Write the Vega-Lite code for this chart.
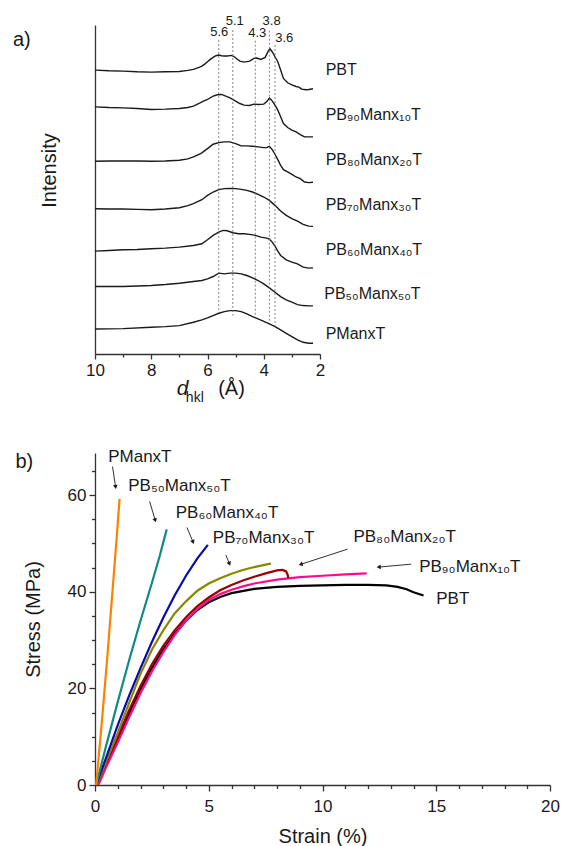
{
  "$schema": "https://vega.github.io/schema/vega-lite/v6.json",
  "padding": {"left": 12, "top": 14, "right": 5, "bottom": 5},
  "background": "white",
  "config": {
    "font": "Liberation Sans",
    "view": {"stroke": null},
    "axis": {"domainColor": "#333", "tickColor": "#333", "labelColor": "#1a1a1a", "titleColor": "#1a1a1a", "labelFont": "Liberation Sans", "titleFont": "Liberation Sans", "domainWidth": 1.3, "tickWidth": 1.3, "labelFontSize": 17, "titleFontSize": 20, "titleFontWeight": "normal", "grid": false, "labelFlush": false},
    "text": {"font": "Liberation Sans", "color": "#1a1a1a"}
  },
  "columns": 1,
  "align": "none",
  "spacing": 42,
  "concat": [
    {
      "width": 225,
      "height": 329,
      "resolve": {"axis": {"x": "independent", "y": "independent"}},
      "layer": [
        {
          "data": {"name": "xrd"},
          "mark": {"type": "line", "color": "#1a1a1a", "strokeWidth": 1.4},
          "encoding": {
            "x": {"field": "d", "type": "quantitative", "scale": {"domain": [2, 10], "reverse": true, "nice": false, "zero": false},
              "axis": {"orient": "bottom", "values": [2, 4, 6, 8, 10], "title": null, "tickSize": 5, "labelPadding": 3}},
            "y": {"field": "v", "type": "quantitative", "scale": {"domain": [0, 985], "nice": false},
              "axis": {"orient": "left", "title": "Intensity", "labels": false, "ticks": false, "domain": true, "titlePadding": 36, "titleY": 145, "titleAlign": "center", "titleAnchor": "middle"}},
            "detail": {"field": "s"}
          }
        },
        {
          "data": {"name": "xrd"},
          "mark": {"type": "point", "opacity": 0},
          "encoding": {
            "x": {"field": "d", "type": "quantitative", "axis": {"orient": "bottom", "values": [3, 5, 7, 9], "labels": false, "domain": false, "tickSize": 3, "title": null}},
            "y": {"field": "v", "type": "quantitative", "axis": null}
          }
        },
        {
          "data": {"name": "peaks"},
          "mark": {"type": "rule", "strokeDash": [2, 2], "color": "#666", "strokeWidth": 0.8},
          "encoding": {
            "x": {"field": "d", "type": "quantitative", "axis": null},
            "y": {"field": "top", "type": "quantitative", "axis": null},
            "y2": {"field": "bottom"}
          }
        },
        {
          "data": {"name": "peaklabels"},
          "mark": {"type": "text", "fontSize": 13, "baseline": "middle"},
          "encoding": {
            "x": {"field": "d", "type": "quantitative", "axis": null},
            "y": {"field": "v", "type": "quantitative", "axis": null},
            "text": {"field": "t", "type": "nominal"}
          }
        },
        {
          "data": {"name": "xrdlabels"},
          "mark": {"type": "text", "fontSize": 16, "align": "left", "baseline": "middle"},
          "encoding": {
            "x": {"field": "d", "type": "quantitative", "axis": null},
            "y": {"field": "v", "type": "quantitative", "axis": null},
            "text": {"field": "t", "type": "nominal"}
          }
        },
        {
          "data": {"values": [{"t": "d", "d": 7.09, "v": -104}]},
          "mark": {"type": "text", "fontSize": 21, "fontStyle": "italic", "align": "left", "baseline": "middle"},
          "encoding": {
            "x": {"field": "d", "type": "quantitative", "axis": null},
            "y": {"field": "v", "type": "quantitative", "axis": null},
            "text": {"field": "t", "type": "nominal"}
          }
        },
        {
          "data": {"values": [{"t": "hkl", "d": 6.77, "v": -131}]},
          "mark": {"type": "text", "fontSize": 14, "align": "left", "baseline": "middle"},
          "encoding": {
            "x": {"field": "d", "type": "quantitative", "axis": null},
            "y": {"field": "v", "type": "quantitative", "axis": null},
            "text": {"field": "t", "type": "nominal"}
          }
        },
        {
          "data": {"values": [{"t": "(Å)", "d": 5.62, "v": -104}]},
          "mark": {"type": "text", "fontSize": 20, "align": "left", "baseline": "middle"},
          "encoding": {
            "x": {"field": "d", "type": "quantitative", "axis": null},
            "y": {"field": "v", "type": "quantitative", "axis": null},
            "text": {"field": "t", "type": "nominal"}
          }
        },
        {
          "data": {"values": [{"t": "a)", "d": 12.92, "v": 940}]},
          "mark": {"type": "text", "fontSize": 20, "align": "left", "baseline": "middle"},
          "encoding": {
            "x": {"field": "d", "type": "quantitative", "axis": null},
            "y": {"field": "v", "type": "quantitative", "axis": null},
            "text": {"field": "t", "type": "nominal"}
          }
        }
      ]
    },
    {
      "width": 455,
      "height": 332,
      "resolve": {"axis": {"x": "independent", "y": "independent"}},
      "layer": [
        {
          "data": {"name": "ss"},
          "mark": {"type": "line", "strokeWidth": 2.2},
          "encoding": {
            "x": {"field": "x", "type": "quantitative", "scale": {"domain": [0, 20], "nice": false},
              "axis": {"orient": "bottom", "values": [0, 5, 10, 15, 20], "title": "Strain (%)", "tickSize": 6, "labelPadding": 7, "titlePadding": 12}},
            "y": {"field": "y", "type": "quantitative", "scale": {"domain": [0, 68.7], "nice": false},
              "axis": {"orient": "left", "values": [0, 20, 40, 60], "title": "Stress (MPa)", "tickSize": 6, "labelPadding": 3, "titlePadding": 24}},
            "color": {"field": "s", "type": "nominal", "legend": null,
              "scale": {"domain": ["PBT", "PB90Manx10T", "PB80Manx20T", "PB70Manx30T", "PB60Manx40T", "PB50Manx50T", "PManxT"],
                "range": ["#000000", "#FF0A8C", "#990000", "#888800", "#0A0AA8", "#128A82", "#FF8000"]}},
            "order": {"field": "i", "type": "quantitative"}
          }
        },
        {
          "data": {"name": "ss"},
          "mark": {"type": "point", "opacity": 0},
          "encoding": {
            "x": {"field": "x", "type": "quantitative", "axis": {"orient": "bottom", "values": [1, 2, 3, 4, 6, 7, 8, 9, 11, 12, 13, 14, 16, 17, 18, 19], "labels": false, "domain": false, "tickSize": 3.5, "title": null}},
            "y": {"field": "y", "type": "quantitative", "axis": {"orient": "left", "values": [5, 10, 15, 25, 30, 35, 45, 50, 55, 65], "labels": false, "domain": false, "tickSize": 3.5, "title": null}}
          }
        },
        {
          "data": {"name": "arrows"},
          "mark": {"type": "rule", "color": "#1a1a1a", "strokeWidth": 0.9},
          "encoding": {
            "x": {"field": "x1", "type": "quantitative", "axis": null},
            "y": {"field": "y1", "type": "quantitative", "axis": null},
            "x2": {"field": "x2"},
            "y2": {"field": "y2"}
          }
        },
        {
          "data": {"name": "arrows"},
          "mark": {"type": "point", "shape": "triangle", "filled": true, "color": "#1a1a1a", "size": 22, "opacity": 1},
          "encoding": {
            "x": {"field": "x2", "type": "quantitative", "axis": null},
            "y": {"field": "y2", "type": "quantitative", "axis": null},
            "angle": {"field": "angle", "type": "quantitative", "scale": null}
          }
        },
        {
          "data": {"name": "sslabels"},
          "mark": {"type": "text", "fontSize": 17, "align": "left", "baseline": "middle"},
          "encoding": {
            "x": {"field": "x", "type": "quantitative", "axis": null},
            "y": {"field": "y", "type": "quantitative", "axis": null},
            "text": {"field": "t", "type": "nominal"}
          }
        },
        {
          "data": {"values": [{"t": "b)", "x": -3.5, "y": 66.8}]},
          "mark": {"type": "text", "fontSize": 20, "align": "left", "baseline": "middle"},
          "encoding": {
            "x": {"field": "x", "type": "quantitative", "axis": null},
            "y": {"field": "y", "type": "quantitative", "axis": null},
            "text": {"field": "t", "type": "nominal"}
          }
        }
      ]
    }
  ],
  "datasets": {
    "peaks": [
      {"d": 5.6, "top": 940, "bottom": 132},
      {"d": 5.1, "top": 970, "bottom": 115},
      {"d": 4.3, "top": 938, "bottom": 112},
      {"d": 3.8, "top": 968, "bottom": 95},
      {"d": 3.6, "top": 925, "bottom": 82}
    ],
    "peaklabels": [
      {"t": "5.6", "d": 5.58, "v": 965},
      {"t": "5.1", "d": 5.03, "v": 998},
      {"t": "4.3", "d": 4.23, "v": 960},
      {"t": "3.8", "d": 3.72, "v": 998},
      {"t": "3.6", "d": 3.27, "v": 945}
    ],
    "xrdlabels": [
      {"t": "PBT", "d": 1.8, "v": 850},
      {"t": "PB₉₀Manx₁₀T", "d": 1.8, "v": 715},
      {"t": "PB₈₀Manx₂₀T", "d": 1.8, "v": 580},
      {"t": "PB₇₀Manx₃₀T", "d": 1.8, "v": 445},
      {"t": "PB₆₀Manx₄₀T", "d": 1.8, "v": 310},
      {"t": "PB₅₀Manx₅₀T", "d": 1.85, "v": 180},
      {"t": "PManxT", "d": 1.8, "v": 60}
    ],
    "sslabels": [
      {"t": "PManxT", "x": 0.58, "y": 67.9},
      {"t": "PB₅₀Manx₅₀T", "x": 1.46, "y": 61.8},
      {"t": "PB₆₀Manx₄₀T", "x": 3.55, "y": 56.3},
      {"t": "PB₇₀Manx₃₀T", "x": 5.18, "y": 51.1},
      {"t": "PB₈₀Manx₂₀T", "x": 11.36, "y": 51.3},
      {"t": "PB₉₀Manx₁₀T", "x": 14.25, "y": 45.2},
      {"t": "PBT", "x": 15.0, "y": 38.4}
    ],
    "arrows": [
      {"x1": 0.77, "y1": 65.9, "x2": 0.9, "y2": 61.8, "angle": 172},
      {"x1": 2.4, "y1": 58.7, "x2": 2.64, "y2": 54.9, "angle": 164},
      {"x1": 4.04, "y1": 53.3, "x2": 4.3, "y2": 50.4, "angle": 157},
      {"x1": 5.75, "y1": 47.6, "x2": 5.9, "y2": 45.9, "angle": 159},
      {"x1": 11.1, "y1": 48.8, "x2": 9.07, "y2": 45.7, "angle": 252},
      {"x1": 13.9, "y1": 45.7, "x2": 12.5, "y2": 45.1, "angle": 265}
    ],
    "xrd": [
      {"s": "PBT", "d": 10, "v": 850}, {"s": "PBT", "d": 9.5, "v": 848}, {"s": "PBT", "d": 9, "v": 847}, {"s": "PBT", "d": 8.5, "v": 845}, {"s": "PBT", "d": 8, "v": 844}, {"s": "PBT", "d": 7.5, "v": 845}, {"s": "PBT", "d": 7, "v": 846}, {"s": "PBT", "d": 6.7, "v": 849}, {"s": "PBT", "d": 6.5, "v": 852}, {"s": "PBT", "d": 6.3, "v": 858}, {"s": "PBT", "d": 6.2, "v": 862}, {"s": "PBT", "d": 6.1, "v": 868}, {"s": "PBT", "d": 6.0, "v": 875}, {"s": "PBT", "d": 5.9, "v": 882}, {"s": "PBT", "d": 5.8, "v": 888}, {"s": "PBT", "d": 5.7, "v": 893}, {"s": "PBT", "d": 5.6, "v": 895}, {"s": "PBT", "d": 5.5, "v": 893}, {"s": "PBT", "d": 5.4, "v": 892}, {"s": "PBT", "d": 5.3, "v": 892}, {"s": "PBT", "d": 5.15, "v": 894}, {"s": "PBT", "d": 5.05, "v": 890}, {"s": "PBT", "d": 4.95, "v": 883}, {"s": "PBT", "d": 4.85, "v": 877}, {"s": "PBT", "d": 4.7, "v": 874}, {"s": "PBT", "d": 4.5, "v": 877}, {"s": "PBT", "d": 4.35, "v": 885}, {"s": "PBT", "d": 4.25, "v": 886}, {"s": "PBT", "d": 4.1, "v": 882}, {"s": "PBT", "d": 3.95, "v": 888}, {"s": "PBT", "d": 3.85, "v": 905}, {"s": "PBT", "d": 3.78, "v": 914}, {"s": "PBT", "d": 3.7, "v": 905}, {"s": "PBT", "d": 3.6, "v": 890}, {"s": "PBT", "d": 3.5, "v": 875}, {"s": "PBT", "d": 3.4, "v": 850}, {"s": "PBT", "d": 3.3, "v": 825}, {"s": "PBT", "d": 3.15, "v": 812}, {"s": "PBT", "d": 3.0, "v": 806}, {"s": "PBT", "d": 2.85, "v": 801}, {"s": "PBT", "d": 2.75, "v": 799}, {"s": "PBT", "d": 2.65, "v": 793}, {"s": "PBT", "d": 2.5, "v": 791}, {"s": "PBT", "d": 2.4, "v": 792}, {"s": "PBT", "d": 2.25, "v": 794},
      {"s": "PB90", "d": 10, "v": 740}, {"s": "PB90", "d": 9.5, "v": 738}, {"s": "PB90", "d": 9, "v": 737}, {"s": "PB90", "d": 8.5, "v": 735}, {"s": "PB90", "d": 8, "v": 732}, {"s": "PB90", "d": 7.5, "v": 733}, {"s": "PB90", "d": 7, "v": 735}, {"s": "PB90", "d": 6.7, "v": 738}, {"s": "PB90", "d": 6.5, "v": 742}, {"s": "PB90", "d": 6.3, "v": 750}, {"s": "PB90", "d": 6.2, "v": 755}, {"s": "PB90", "d": 6.0, "v": 762}, {"s": "PB90", "d": 5.8, "v": 772}, {"s": "PB90", "d": 5.65, "v": 776}, {"s": "PB90", "d": 5.5, "v": 777}, {"s": "PB90", "d": 5.35, "v": 772}, {"s": "PB90", "d": 5.2, "v": 767}, {"s": "PB90", "d": 5.0, "v": 757}, {"s": "PB90", "d": 4.85, "v": 750}, {"s": "PB90", "d": 4.7, "v": 745}, {"s": "PB90", "d": 4.5, "v": 744}, {"s": "PB90", "d": 4.35, "v": 748}, {"s": "PB90", "d": 4.2, "v": 747}, {"s": "PB90", "d": 4.0, "v": 748}, {"s": "PB90", "d": 3.9, "v": 755}, {"s": "PB90", "d": 3.8, "v": 766}, {"s": "PB90", "d": 3.72, "v": 760}, {"s": "PB90", "d": 3.6, "v": 745}, {"s": "PB90", "d": 3.5, "v": 730}, {"s": "PB90", "d": 3.4, "v": 710}, {"s": "PB90", "d": 3.3, "v": 690}, {"s": "PB90", "d": 3.15, "v": 678}, {"s": "PB90", "d": 3.0, "v": 670}, {"s": "PB90", "d": 2.85, "v": 665}, {"s": "PB90", "d": 2.7, "v": 657}, {"s": "PB90", "d": 2.55, "v": 650}, {"s": "PB90", "d": 2.4, "v": 650}, {"s": "PB90", "d": 2.25, "v": 650},
      {"s": "PB80", "d": 10, "v": 577}, {"s": "PB80", "d": 9.5, "v": 578}, {"s": "PB80", "d": 9, "v": 578}, {"s": "PB80", "d": 8.5, "v": 578}, {"s": "PB80", "d": 8, "v": 577}, {"s": "PB80", "d": 7.5, "v": 578}, {"s": "PB80", "d": 7, "v": 580}, {"s": "PB80", "d": 6.7, "v": 584}, {"s": "PB80", "d": 6.5, "v": 590}, {"s": "PB80", "d": 6.3, "v": 598}, {"s": "PB80", "d": 6.2, "v": 602}, {"s": "PB80", "d": 6.0, "v": 615}, {"s": "PB80", "d": 5.8, "v": 628}, {"s": "PB80", "d": 5.6, "v": 633}, {"s": "PB80", "d": 5.4, "v": 635}, {"s": "PB80", "d": 5.2, "v": 635}, {"s": "PB80", "d": 5.0, "v": 630}, {"s": "PB80", "d": 4.8, "v": 623}, {"s": "PB80", "d": 4.6, "v": 623}, {"s": "PB80", "d": 4.4, "v": 622}, {"s": "PB80", "d": 4.2, "v": 620}, {"s": "PB80", "d": 4.0, "v": 618}, {"s": "PB80", "d": 3.9, "v": 618}, {"s": "PB80", "d": 3.8, "v": 622}, {"s": "PB80", "d": 3.7, "v": 612}, {"s": "PB80", "d": 3.6, "v": 598}, {"s": "PB80", "d": 3.5, "v": 582}, {"s": "PB80", "d": 3.4, "v": 565}, {"s": "PB80", "d": 3.3, "v": 552}, {"s": "PB80", "d": 3.15, "v": 545}, {"s": "PB80", "d": 3.0, "v": 538}, {"s": "PB80", "d": 2.85, "v": 530}, {"s": "PB80", "d": 2.7, "v": 525}, {"s": "PB80", "d": 2.55, "v": 515}, {"s": "PB80", "d": 2.4, "v": 513}, {"s": "PB80", "d": 2.25, "v": 514},
      {"s": "PB70", "d": 10, "v": 435}, {"s": "PB70", "d": 9.5, "v": 434}, {"s": "PB70", "d": 9, "v": 434}, {"s": "PB70", "d": 8.5, "v": 433}, {"s": "PB70", "d": 8, "v": 432}, {"s": "PB70", "d": 7.5, "v": 434}, {"s": "PB70", "d": 7, "v": 438}, {"s": "PB70", "d": 6.7, "v": 444}, {"s": "PB70", "d": 6.5, "v": 450}, {"s": "PB70", "d": 6.2, "v": 462}, {"s": "PB70", "d": 6.0, "v": 475}, {"s": "PB70", "d": 5.8, "v": 485}, {"s": "PB70", "d": 5.6, "v": 492}, {"s": "PB70", "d": 5.4, "v": 495}, {"s": "PB70", "d": 5.2, "v": 496}, {"s": "PB70", "d": 5.0, "v": 495}, {"s": "PB70", "d": 4.8, "v": 493}, {"s": "PB70", "d": 4.6, "v": 490}, {"s": "PB70", "d": 4.4, "v": 485}, {"s": "PB70", "d": 4.2, "v": 478}, {"s": "PB70", "d": 4.0, "v": 470}, {"s": "PB70", "d": 3.8, "v": 460}, {"s": "PB70", "d": 3.6, "v": 445}, {"s": "PB70", "d": 3.4, "v": 428}, {"s": "PB70", "d": 3.2, "v": 415}, {"s": "PB70", "d": 3.0, "v": 405}, {"s": "PB70", "d": 2.8, "v": 398}, {"s": "PB70", "d": 2.6, "v": 388}, {"s": "PB70", "d": 2.4, "v": 383}, {"s": "PB70", "d": 2.25, "v": 382},
      {"s": "PB60", "d": 10, "v": 308}, {"s": "PB60", "d": 9.5, "v": 310}, {"s": "PB60", "d": 9, "v": 312}, {"s": "PB60", "d": 8.5, "v": 313}, {"s": "PB60", "d": 8, "v": 315}, {"s": "PB60", "d": 7.5, "v": 317}, {"s": "PB60", "d": 7, "v": 320}, {"s": "PB60", "d": 6.5, "v": 325}, {"s": "PB60", "d": 6.2, "v": 330}, {"s": "PB60", "d": 6.0, "v": 342}, {"s": "PB60", "d": 5.8, "v": 355}, {"s": "PB60", "d": 5.6, "v": 365}, {"s": "PB60", "d": 5.45, "v": 370}, {"s": "PB60", "d": 5.3, "v": 369}, {"s": "PB60", "d": 5.1, "v": 363}, {"s": "PB60", "d": 4.9, "v": 360}, {"s": "PB60", "d": 4.7, "v": 360}, {"s": "PB60", "d": 4.5, "v": 358}, {"s": "PB60", "d": 4.3, "v": 355}, {"s": "PB60", "d": 4.1, "v": 350}, {"s": "PB60", "d": 3.9, "v": 347}, {"s": "PB60", "d": 3.8, "v": 344}, {"s": "PB60", "d": 3.7, "v": 335}, {"s": "PB60", "d": 3.6, "v": 323}, {"s": "PB60", "d": 3.5, "v": 308}, {"s": "PB60", "d": 3.4, "v": 295}, {"s": "PB60", "d": 3.2, "v": 282}, {"s": "PB60", "d": 3.0, "v": 275}, {"s": "PB60", "d": 2.8, "v": 270}, {"s": "PB60", "d": 2.6, "v": 260}, {"s": "PB60", "d": 2.4, "v": 257}, {"s": "PB60", "d": 2.25, "v": 258},
      {"s": "PB50", "d": 10, "v": 202}, {"s": "PB50", "d": 9, "v": 202}, {"s": "PB50", "d": 8, "v": 205}, {"s": "PB50", "d": 7.5, "v": 208}, {"s": "PB50", "d": 7, "v": 212}, {"s": "PB50", "d": 6.5, "v": 217}, {"s": "PB50", "d": 6.2, "v": 220}, {"s": "PB50", "d": 6.0, "v": 225}, {"s": "PB50", "d": 5.8, "v": 232}, {"s": "PB50", "d": 5.6, "v": 242}, {"s": "PB50", "d": 5.4, "v": 240}, {"s": "PB50", "d": 5.2, "v": 242}, {"s": "PB50", "d": 5.0, "v": 242}, {"s": "PB50", "d": 4.8, "v": 240}, {"s": "PB50", "d": 4.6, "v": 235}, {"s": "PB50", "d": 4.4, "v": 228}, {"s": "PB50", "d": 4.2, "v": 220}, {"s": "PB50", "d": 4.0, "v": 210}, {"s": "PB50", "d": 3.8, "v": 198}, {"s": "PB50", "d": 3.6, "v": 185}, {"s": "PB50", "d": 3.4, "v": 172}, {"s": "PB50", "d": 3.2, "v": 162}, {"s": "PB50", "d": 3.0, "v": 155}, {"s": "PB50", "d": 2.8, "v": 148}, {"s": "PB50", "d": 2.6, "v": 145}, {"s": "PB50", "d": 2.4, "v": 144}, {"s": "PB50", "d": 2.25, "v": 144},
      {"s": "PManxT", "d": 10, "v": 75}, {"s": "PManxT", "d": 9, "v": 76}, {"s": "PManxT", "d": 8, "v": 80}, {"s": "PManxT", "d": 7.5, "v": 82}, {"s": "PManxT", "d": 7, "v": 85}, {"s": "PManxT", "d": 6.5, "v": 95}, {"s": "PManxT", "d": 6.2, "v": 102}, {"s": "PManxT", "d": 6.0, "v": 108}, {"s": "PManxT", "d": 5.8, "v": 115}, {"s": "PManxT", "d": 5.6, "v": 122}, {"s": "PManxT", "d": 5.4, "v": 127}, {"s": "PManxT", "d": 5.2, "v": 130}, {"s": "PManxT", "d": 5.0, "v": 130}, {"s": "PManxT", "d": 4.8, "v": 127}, {"s": "PManxT", "d": 4.6, "v": 120}, {"s": "PManxT", "d": 4.4, "v": 112}, {"s": "PManxT", "d": 4.2, "v": 105}, {"s": "PManxT", "d": 4.0, "v": 98}, {"s": "PManxT", "d": 3.8, "v": 90}, {"s": "PManxT", "d": 3.6, "v": 82}, {"s": "PManxT", "d": 3.4, "v": 72}, {"s": "PManxT", "d": 3.2, "v": 62}, {"s": "PManxT", "d": 3.0, "v": 52}, {"s": "PManxT", "d": 2.8, "v": 42}, {"s": "PManxT", "d": 2.6, "v": 35}, {"s": "PManxT", "d": 2.4, "v": 32}, {"s": "PManxT", "d": 2.25, "v": 32}
    ],
    "ss": [
      {"s": "PBT", "i": 1, "x": 0.1, "y": 0}, {"s": "PBT", "i": 2, "x": 0.5, "y": 4.5}, {"s": "PBT", "i": 3, "x": 1.0, "y": 9.5}, {"s": "PBT", "i": 4, "x": 1.5, "y": 14.8}, {"s": "PBT", "i": 5, "x": 2.0, "y": 19.8}, {"s": "PBT", "i": 6, "x": 2.5, "y": 24.2}, {"s": "PBT", "i": 7, "x": 3.0, "y": 28}, {"s": "PBT", "i": 8, "x": 3.5, "y": 31.3}, {"s": "PBT", "i": 9, "x": 4.0, "y": 34}, {"s": "PBT", "i": 10, "x": 4.5, "y": 36.2}, {"s": "PBT", "i": 11, "x": 5.0, "y": 37.8}, {"s": "PBT", "i": 12, "x": 5.5, "y": 38.9}, {"s": "PBT", "i": 13, "x": 6.0, "y": 39.7}, {"s": "PBT", "i": 14, "x": 7.0, "y": 40.6}, {"s": "PBT", "i": 15, "x": 8.0, "y": 41.0}, {"s": "PBT", "i": 16, "x": 9.0, "y": 41.2}, {"s": "PBT", "i": 17, "x": 10.0, "y": 41.3}, {"s": "PBT", "i": 18, "x": 11.0, "y": 41.4}, {"s": "PBT", "i": 19, "x": 12.0, "y": 41.4}, {"s": "PBT", "i": 20, "x": 12.8, "y": 41.3}, {"s": "PBT", "i": 21, "x": 13.3, "y": 41.0}, {"s": "PBT", "i": 22, "x": 13.7, "y": 40.5}, {"s": "PBT", "i": 23, "x": 14.0, "y": 39.9}, {"s": "PBT", "i": 24, "x": 14.44, "y": 39.2},
      {"s": "PB90Manx10T", "i": 1, "x": 0.15, "y": 0}, {"s": "PB90Manx10T", "i": 2, "x": 0.5, "y": 3.8}, {"s": "PB90Manx10T", "i": 3, "x": 1.0, "y": 8.8}, {"s": "PB90Manx10T", "i": 4, "x": 1.5, "y": 14}, {"s": "PB90Manx10T", "i": 5, "x": 2.0, "y": 19}, {"s": "PB90Manx10T", "i": 6, "x": 2.5, "y": 23.5}, {"s": "PB90Manx10T", "i": 7, "x": 3.0, "y": 27.5}, {"s": "PB90Manx10T", "i": 8, "x": 3.5, "y": 31}, {"s": "PB90Manx10T", "i": 9, "x": 4.0, "y": 34}, {"s": "PB90Manx10T", "i": 10, "x": 4.5, "y": 36.4}, {"s": "PB90Manx10T", "i": 11, "x": 5.0, "y": 38.3}, {"s": "PB90Manx10T", "i": 12, "x": 5.5, "y": 39.5}, {"s": "PB90Manx10T", "i": 13, "x": 6.0, "y": 40.4}, {"s": "PB90Manx10T", "i": 14, "x": 6.5, "y": 41.1}, {"s": "PB90Manx10T", "i": 15, "x": 7.0, "y": 41.7}, {"s": "PB90Manx10T", "i": 16, "x": 8.0, "y": 42.5}, {"s": "PB90Manx10T", "i": 17, "x": 9.0, "y": 43.0}, {"s": "PB90Manx10T", "i": 18, "x": 10.0, "y": 43.3}, {"s": "PB90Manx10T", "i": 19, "x": 11.0, "y": 43.6}, {"s": "PB90Manx10T", "i": 20, "x": 11.94, "y": 43.8},
      {"s": "PB80Manx20T", "i": 1, "x": 0.08, "y": 0}, {"s": "PB80Manx20T", "i": 2, "x": 0.5, "y": 4.8}, {"s": "PB80Manx20T", "i": 3, "x": 1.0, "y": 10}, {"s": "PB80Manx20T", "i": 4, "x": 1.5, "y": 15.5}, {"s": "PB80Manx20T", "i": 5, "x": 2.0, "y": 20.5}, {"s": "PB80Manx20T", "i": 6, "x": 2.5, "y": 25}, {"s": "PB80Manx20T", "i": 7, "x": 3.0, "y": 28.8}, {"s": "PB80Manx20T", "i": 8, "x": 3.5, "y": 32}, {"s": "PB80Manx20T", "i": 9, "x": 4.0, "y": 34.7}, {"s": "PB80Manx20T", "i": 10, "x": 4.5, "y": 37}, {"s": "PB80Manx20T", "i": 11, "x": 5.0, "y": 38.8}, {"s": "PB80Manx20T", "i": 12, "x": 5.5, "y": 40.3}, {"s": "PB80Manx20T", "i": 13, "x": 6.0, "y": 41.4}, {"s": "PB80Manx20T", "i": 14, "x": 6.5, "y": 42.3}, {"s": "PB80Manx20T", "i": 15, "x": 7.0, "y": 43.1}, {"s": "PB80Manx20T", "i": 16, "x": 7.5, "y": 43.8}, {"s": "PB80Manx20T", "i": 17, "x": 8.0, "y": 44.4}, {"s": "PB80Manx20T", "i": 18, "x": 8.25, "y": 44.5}, {"s": "PB80Manx20T", "i": 19, "x": 8.4, "y": 44.2}, {"s": "PB80Manx20T", "i": 20, "x": 8.47, "y": 43.5}, {"s": "PB80Manx20T", "i": 21, "x": 8.5, "y": 42.8},
      {"s": "PB70Manx30T", "i": 1, "x": 0.08, "y": 0}, {"s": "PB70Manx30T", "i": 2, "x": 0.5, "y": 5}, {"s": "PB70Manx30T", "i": 3, "x": 1.0, "y": 10.8}, {"s": "PB70Manx30T", "i": 4, "x": 1.5, "y": 17}, {"s": "PB70Manx30T", "i": 5, "x": 2.0, "y": 23}, {"s": "PB70Manx30T", "i": 6, "x": 2.5, "y": 28}, {"s": "PB70Manx30T", "i": 7, "x": 3.0, "y": 32}, {"s": "PB70Manx30T", "i": 8, "x": 3.5, "y": 35.5}, {"s": "PB70Manx30T", "i": 9, "x": 4.0, "y": 38}, {"s": "PB70Manx30T", "i": 10, "x": 4.5, "y": 40.2}, {"s": "PB70Manx30T", "i": 11, "x": 5.0, "y": 41.7}, {"s": "PB70Manx30T", "i": 12, "x": 5.5, "y": 42.8}, {"s": "PB70Manx30T", "i": 13, "x": 6.0, "y": 43.7}, {"s": "PB70Manx30T", "i": 14, "x": 6.5, "y": 44.5}, {"s": "PB70Manx30T", "i": 15, "x": 7.0, "y": 45.1}, {"s": "PB70Manx30T", "i": 16, "x": 7.5, "y": 45.6}, {"s": "PB70Manx30T", "i": 17, "x": 7.73, "y": 45.8},
      {"s": "PB60Manx40T", "i": 1, "x": 0.05, "y": 0}, {"s": "PB60Manx40T", "i": 2, "x": 0.5, "y": 5.8}, {"s": "PB60Manx40T", "i": 3, "x": 1.0, "y": 12.4}, {"s": "PB60Manx40T", "i": 4, "x": 1.5, "y": 18.5}, {"s": "PB60Manx40T", "i": 5, "x": 2.0, "y": 24.2}, {"s": "PB60Manx40T", "i": 6, "x": 2.5, "y": 29.6}, {"s": "PB60Manx40T", "i": 7, "x": 3.0, "y": 34.6}, {"s": "PB60Manx40T", "i": 8, "x": 3.5, "y": 39.2}, {"s": "PB60Manx40T", "i": 9, "x": 4.0, "y": 43.3}, {"s": "PB60Manx40T", "i": 10, "x": 4.5, "y": 46.9}, {"s": "PB60Manx40T", "i": 11, "x": 4.96, "y": 49.7},
      {"s": "PB50Manx50T", "i": 1, "x": 0.05, "y": 0}, {"s": "PB50Manx50T", "i": 2, "x": 0.5, "y": 8.3}, {"s": "PB50Manx50T", "i": 3, "x": 1.0, "y": 17.2}, {"s": "PB50Manx50T", "i": 4, "x": 1.5, "y": 25.8}, {"s": "PB50Manx50T", "i": 5, "x": 2.0, "y": 34}, {"s": "PB50Manx50T", "i": 6, "x": 2.5, "y": 41.8}, {"s": "PB50Manx50T", "i": 7, "x": 2.85, "y": 47.5}, {"s": "PB50Manx50T", "i": 8, "x": 3.15, "y": 52.9},
      {"s": "PManxT", "i": 1, "x": 0.05, "y": 0}, {"s": "PManxT", "i": 2, "x": 0.3, "y": 13}, {"s": "PManxT", "i": 3, "x": 0.55, "y": 27}, {"s": "PManxT", "i": 4, "x": 0.8, "y": 42}, {"s": "PManxT", "i": 5, "x": 0.95, "y": 51}, {"s": "PManxT", "i": 6, "x": 1.08, "y": 59.2}
    ]
  }
}
